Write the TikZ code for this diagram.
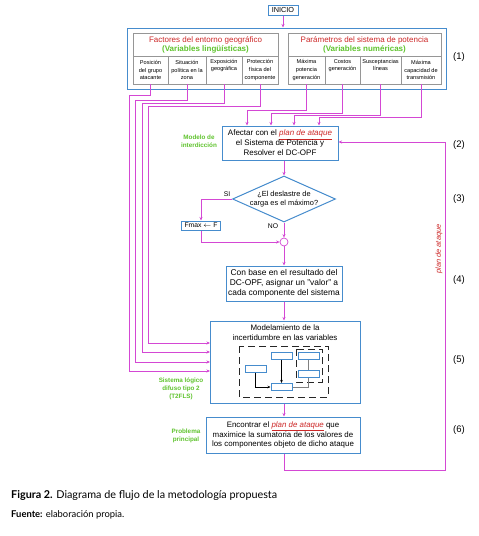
\documentclass[tikz,border=0pt]{standalone}
\usepackage{fontspec}
\setmainfont{Liberation Sans}
\newfontfamily\capfont{Lato}
\usetikzlibrary{arrows.meta,shapes.geometric}
\definecolor{bblue}{RGB}{70,140,205}
\definecolor{mag}{RGB}{212,72,212}
\definecolor{grn}{RGB}{95,195,45}
\definecolor{rred}{RGB}{205,40,40}
\definecolor{gbord}{RGB}{150,150,150}
\begin{document}
\begin{tikzpicture}[x=1pt,y=-1pt,
  box/.style={draw=bblue, line width=1pt, fill=white, align=center, inner sep=0pt},
  cell/.style={align=center, inner sep=0pt, minimum height=28pt, font=\fontsize{5.6}{7.7}\selectfont},
  conn/.style={draw=mag, line width=0.6pt},
  arr/.style={conn, -{Stealth[length=3.5pt,width=3pt]}},
  sbox/.style={draw=bblue, line width=1pt, fill=white, minimum width=21pt, minimum height=7pt, inner sep=0pt},
  dsh/.style={draw=black!85, line width=1pt, dash pattern=on 7pt off 4pt},
  glab/.style={text=grn, font=\bfseries\fontsize{6.3}{7.8}\selectfont, align=center},
  num/.style={font=\fontsize{9.5}{11}\selectfont},
  txt/.style={font=\fontsize{8}{10}\selectfont, align=center}
]
\fill[white] (0,0) rectangle (479,536);
\useasboundingbox (0,0) rectangle (479,536);

% INICIO
\node[box, minimum width=30pt, minimum height=10pt, font=\fontsize{7.3}{8}\selectfont] (ini) at (283,10) {INICIO};

% block (1)
\node[draw=bblue, line width=1pt, minimum width=319pt, minimum height=61pt, inner sep=0pt] (g1) at (286.5,58.5) {};
\draw[arr] (ini.south) -- (ini.south |- g1.north);
\node[draw=gbord, line width=0.6pt, minimum width=145pt, minimum height=51pt, inner sep=0pt] (lb) at (205.5,58.5) {};
\node[draw=gbord, line width=0.6pt, minimum width=153pt, minimum height=51pt, inner sep=0pt] (rb) at (364.5,58.5) {};
\draw[gbord, line width=0.6pt] (133,56) -- (278,56) (168,56) -- (168,84) (206,56) -- (206,84) (242,56) -- (242,84);
\draw[gbord, line width=0.6pt] (288,56) -- (441,56) (325,56) -- (325,84) (360,56) -- (360,84) (401,56) -- (401,84);
\node[font=\fontsize{8}{9}\selectfont, align=center] (lh) at (205.5,44.5) {\textcolor{rred}{Factores del entorno geográfico}\\\textcolor{grn}{\bfseries (Variables lingüísticas)}};
\node[font=\fontsize{8}{9}\selectfont, align=center] (rh) at (364.5,44.5) {\textcolor{rred}{Parámetros del sistema de potencia}\\\textcolor{grn}{\bfseries (Variables numéricas)}};
\node[cell, minimum width=35pt] (l1) at (150.5,70) {Posición\\del grupo\\atacante};
\node[cell, minimum width=38pt] (l2) at (187,70) {Situación\\política en la\\zona};
\node[cell, minimum width=36pt] (l3) at (224,70) {Exposición\\geográfica\\\strut};
\node[cell, minimum width=36pt] (l4) at (260,70) {Protección\\física del\\componente};
\node[cell, minimum width=37pt] (r1) at (306.5,70) {Máxima\\potencia\\generación};
\node[cell, minimum width=35pt] (r2) at (342.5,70) {Costos\\generación\\\strut};
\node[cell, minimum width=41pt] (r3) at (380.5,70) {Susceptancias\\líneas\\\strut};
\node[cell, minimum width=40pt] (r4) at (421,70) {Máxima\\capacidad de\\transmisión};
\node[num] at (459,57) {(1)};

% block (2)
\node[box, txt, minimum width=116pt, minimum height=34pt] (b2) at (280,143) {Afectar con el \textcolor{rred}{\itshape\underline{plan de ataque}}\\el Sistema de Potencia y\\Resolver el DC-OPF};
\node[glab] at (199,141.5) {Modelo de\\interdicción};
\node[num] at (459,145) {(2)};

% connectors from block (1)
\draw[arr] (l1.south) |- (129,95) |- (210,371);
\draw[arr] (l2.south) |- (135,100) |- (210,362);
\draw[arr] (l3.south) |- (142,103) |- (210,352);
\draw[arr] (l4.south) |- (148,106) |- (210,343);
\draw[arr] (r1.south) |- (247,110) -- (b2.north -| 247,0);
\draw[arr] (r2.south) |- (271,113) -- (b2.north -| 271,0);
\draw[arr] (r3.south) |- (294,115) -- (b2.north -| 294,0);
\draw[arr] (r4.south) |- (319,117) -- (b2.north -| 319,0);

% decision (3)
\node[draw=bblue, line width=1pt, diamond, minimum width=103pt, minimum height=46pt, inner sep=0pt] (dia) at (284,199) {};
\node[txt, font=\fontsize{7.4}{9.5}\selectfont] at (dia) {¿El deslastre de\\carga es el máximo?};
\draw[arr] (b2.south -| dia.north) -- (dia.north);
\node[font=\fontsize{6.8}{8}\selectfont] (si) at (227,194) {SI};
\node[box, minimum width=39pt, minimum height=9pt, font=\fontsize{6.8}{8}\selectfont] (fm) at (201,225.5) {Fmax $\leftarrow$ F};
\draw[arr] (dia.west) -| (fm.north);
\node[circle, draw=mag, line width=0.7pt, minimum size=8pt, inner sep=0pt] (jn) at (284,242) {};
\draw[arr] (dia.south) -- (jn.north);
\draw[arr] (fm.south) |- (jn.west);
\node[font=\fontsize{6.8}{8}\selectfont] (no) at (273,226) {NO};
\node[num] at (459,199) {(3)};

% block (4)
\node[box, txt, font=\fontsize{8.4}{10.2}\selectfont, minimum width=116pt, minimum height=35pt] (b4) at (284,283.5) {Con base en el resultado del\\DC-OPF, asignar un ''valor'' a\\cada componente del sistema};
\draw[arr] (jn.south) -- (b4.north);
\node[num] at (459,280) {(4)};

% block (5)
\node[box, minimum width=150pt, minimum height=82pt] (b5) at (285,362) {};
\node[txt, anchor=north, font=\fontsize{7.9}{10}\selectfont] (t5) at (285,321.5) {Modelamiento de la\\incertidumbre en las variables};
\draw[arr] (b4.south) -- (b4.south |- b5.north);
\draw[dsh] (239,346) rectangle (328,397);
\draw[dsh] (296,349) rectangle (322,382);
\node[sbox] (sa) at (281.5,355.5) {};
\node[sbox] (sb) at (308.5,355.5) {};
\node[sbox] (sc) at (255.5,368.5) {};
\node[sbox] (sd) at (308.5,373.5) {};
\node[sbox] (se) at (281.5,387) {};
\draw[black, line width=0.5pt, -{Stealth[length=3pt,width=2.5pt]}] (sa.south) -- (se.north);
\draw[black, line width=0.5pt, -{Stealth[length=3pt,width=2.5pt]}] (sc.south) |- (se.west);
\draw[gray, line width=0.6pt] (sb.south) -- (sd.north);
\draw[gray, line width=0.6pt] (se.east) -| (sd.south);
\node[glab] at (181,389) {Sistema lógico\\difuso tipo 2\\(T2FLS)};
\node[num] at (459,360) {(5)};

% block (6)
\node[box, txt, font=\fontsize{7.9}{9.2}\selectfont, minimum width=154pt, minimum height=36pt] (b6) at (283,435) {Encontrar el \textcolor{rred}{\itshape\underline{plan de ataque}} que\\maximice la sumatoria de los valores de\\los componentes objeto de dicho ataque};
\draw[arr] (b5.south -| b4.south) -- (b6.north -| b4.south);
\node[glab] at (186,436) {Problema\\principal};
\node[num] at (459,430) {(6)};

% feedback loop
\draw[arr] (b6.south -| b4.south) -- (284,470) -| (445,142) -- (b2.east |- 0,142);
\node[rotate=90, text=rred, font=\itshape\fontsize{7.4}{8}\selectfont] at (439,249) {plan de ataque};

% caption
\node[anchor=base west, inner sep=0pt, font=\capfont\fontsize{10.8}{12}\selectfont] at (11,498) {\textbf{Figura 2.} Diagrama de flujo de la metodología propuesta};
\node[anchor=base west, inner sep=0pt, font=\capfont\fontsize{9.4}{10}\selectfont] at (11,517) {\textbf{Fuente:} elaboración propia.};
\end{tikzpicture}
\end{document}
